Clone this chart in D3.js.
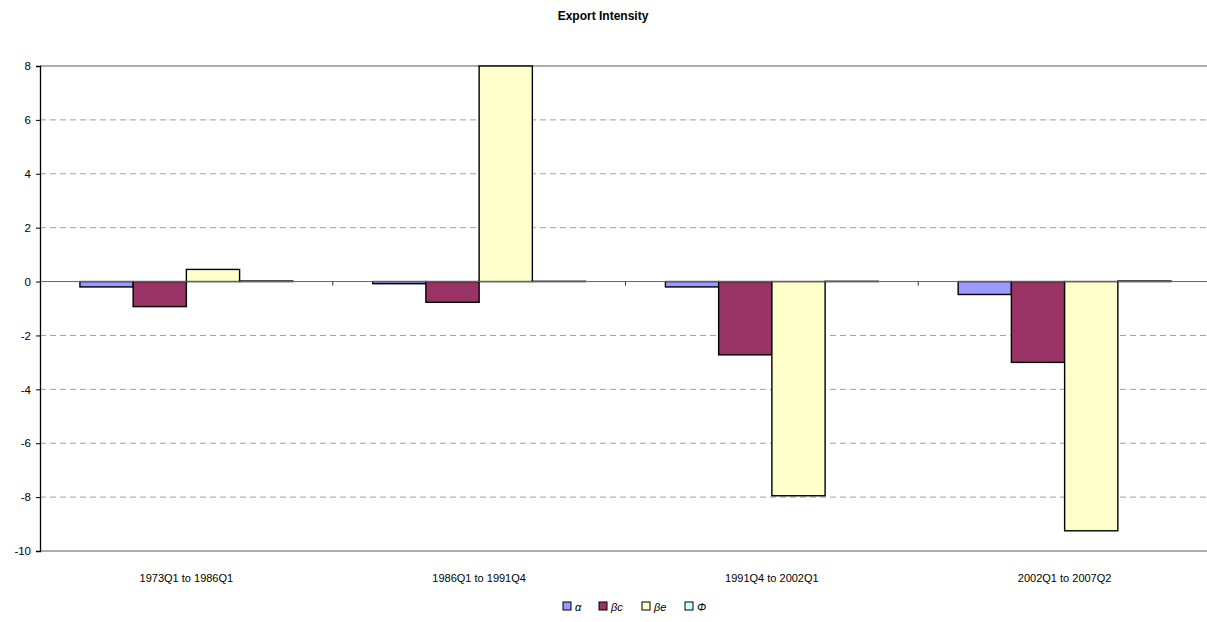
<!DOCTYPE html>
<html>
<head>
<meta charset="utf-8">
<script src="https://cdn.jsdelivr.net/npm/d3@7"></script>
<style>
  body { margin: 0; background: #fff; }
  svg text { font-family: "Liberation Sans", Arial, sans-serif; }
</style>
</head>
<body>
<svg id="chart" width="1207" height="622"></svg>
<script>
// Export Intensity - grouped bars
var categories = ['1973Q1 to 1986Q1', '1986Q1 to 1991Q4', '1991Q4 to 2002Q1', '2002Q1 to 2007Q2'];
var seriesNames = ['α', 'βc', 'βe', 'Φ'];
var alpha = [-0.2, -0.08, -0.2, -0.48];
var betaC = [-0.93, -0.77, -2.72, -3.0];
var betaE = [0.45, 8.0, -7.95, -9.25];
var phi = [0.02, 0.01, 0.01, 0.02];
var yTicks = [-10, -8, -6, -4, -2, 0, 2, 4, 6, 8];

var colors = ['#9999ff', '#993366', '#ffffcc', '#ccffff'];
var seriesValues = [alpha, betaC, betaE, phi];

var svg = d3.select('#chart');
var plotLeft = 40, plotRight = 1211, plotTop = 66, plotBottom = 551;

var x0 = d3.scaleBand()
	.domain(categories)
	.range([plotLeft, plotRight]);

var x1 = d3.scaleBand()
	.domain(seriesNames)
	.range([0, x0.bandwidth()])
	.paddingOuter(0.75) // gap width ~150%
	.paddingInner(0);

var y = d3.scaleLinear()
	.domain([-10, 8])
	.range([plotBottom, plotTop]);

// title
svg.append('text')
	.attr('x', 603)
	.attr('y', 20)
	.attr('text-anchor', 'middle')
	.style('font-size', '12px')
	.style('font-weight', 'bold')
	.text('Export Intensity');

// gridlines
svg.append('g').selectAll('line')
	.data(yTicks.filter(function (d) { return d !== 0 && d !== -10 && d !== 8; }))
	.enter().append('line')
	.attr('x1', plotLeft).attr('x2', plotRight)
	.attr('y1', function (d) { return y(d); })
	.attr('y2', function (d) { return y(d); })
	.style('stroke', '#a0a0a0')
	.style('stroke-dasharray', '6,4');

// top and bottom frame lines
svg.append('g').selectAll('line')
	.data([8, -10])
	.enter().append('line')
	.attr('x1', plotLeft).attr('x2', plotRight)
	.attr('y1', function (d) { return y(d); })
	.attr('y2', function (d) { return y(d); })
	.style('stroke', '#909090')
	.style('stroke-width', 1.3);

// bars
var groups = svg.append('g').selectAll('g')
	.data(categories)
	.enter().append('g')
	.attr('transform', function (d) { return 'translate(' + x0(d) + ',0)'; });

groups.selectAll('rect')
	.data(function (d, i) {
		return seriesNames.map(function (s, j) { return { key: s, value: seriesValues[j][i], color: colors[j] }; });
	})
	.enter().append('rect')
	.attr('x', function (d) { return x1(d.key); })
	.attr('width', x1.bandwidth())
	.attr('y', function (d) { return y(Math.max(0, d.value)); })
	.attr('height', function (d) { return Math.abs(y(d.value) - y(0)); })
	.style('fill', function (d) { return d.color; })
	.style('stroke', '#000')
	.style('stroke-width', 1.4);

// zero axis with category ticks
svg.append('line')
	.attr('x1', plotLeft).attr('x2', plotRight)
	.attr('y1', y(0)).attr('y2', y(0))
	.style('stroke', '#666');

svg.append('g').selectAll('line')
	.data(categories.slice(1))
	.enter().append('line')
	.attr('x1', function (d) { return x0(d); })
	.attr('x2', function (d) { return x0(d); })
	.attr('y1', y(0)).attr('y2', y(0) + 4)
	.style('stroke', '#333');

// y axis (plain hyphen for negatives, like the original)
var yAxis = svg.append('g')
	.attr('transform', 'translate(' + plotLeft + ',0)')
	.call(d3.axisLeft(y).tickValues(yTicks).tickSize(4).tickPadding(5)
		.tickFormat(function (d) { return String(d); }));
yAxis.select('.domain').style('stroke', '#000').style('stroke-width', 1.3);
yAxis.selectAll('.tick line').style('stroke', '#000');
yAxis.selectAll('text')
	.style('font-size', '11.5px')
	.style('font-family', '"Liberation Sans", Arial, sans-serif')
	.style('fill', '#000');

// category labels
svg.append('g').selectAll('text')
	.data(categories)
	.enter().append('text')
	.attr('x', function (d) { return x0(d) + x0.bandwidth() / 2; })
	.attr('y', 582)
	.attr('text-anchor', 'middle')
	.style('font-size', '11px')
	.text(function (d) { return d; });

// legend
var legendX = [563, 599, 642, 685];
var legend = svg.append('g').selectAll('g')
	.data(seriesNames)
	.enter().append('g')
	.attr('transform', function (d, i) { return 'translate(' + legendX[i] + ',602)'; });

legend.append('rect')
	.attr('width', 8).attr('height', 8)
	.style('fill', function (d, i) { return colors[i]; })
	.style('stroke', '#000');

legend.append('text')
	.attr('x', 12)
	.attr('y', 8.5)
	.style('font-size', '11px')
	.style('font-style', 'italic')
	.text(function (d) { return d; });
</script>
</body>
</html>
